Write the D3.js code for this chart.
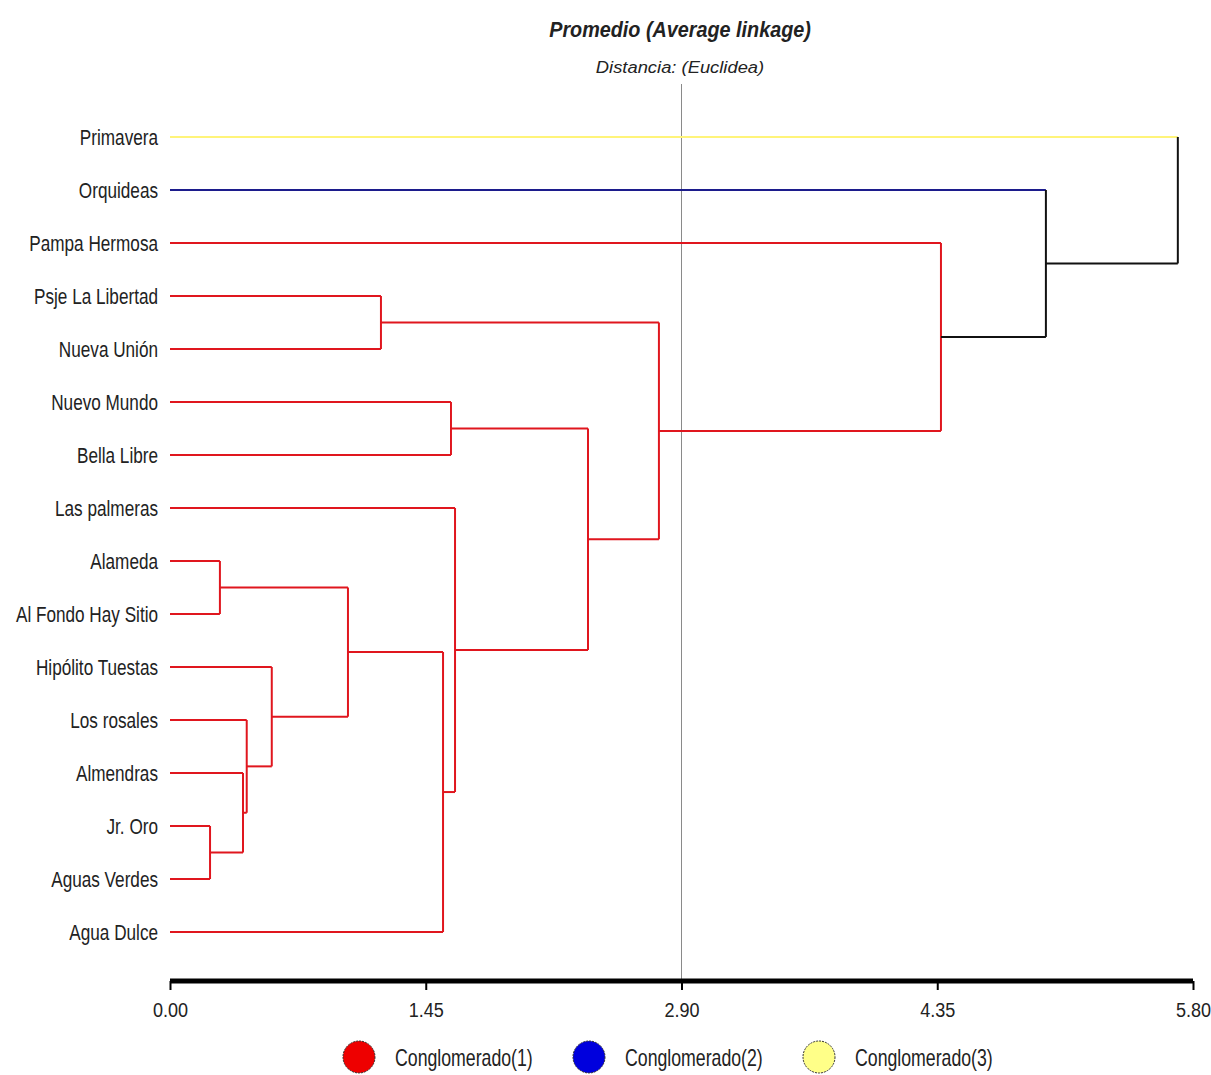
<!DOCTYPE html>
<html>
<head>
<meta charset="utf-8">
<script src="https://cdn.jsdelivr.net/npm/d3@7/dist/d3.min.js"></script>
<style>
  html, body { margin: 0; padding: 0; background: #ffffff; }
  svg { display: block; }
  text { font-family: "Liberation Sans", Arial, sans-serif; fill: #222; }
</style>
</head>
<body>
<svg id="chart" width="1211" height="1075"></svg>
<script>
// ---------------- DATA ----------------
const leafNames = ["Primavera", "Orquideas", "Pampa Hermosa", "Psje La Libertad", "Nueva Unión",
  "Nuevo Mundo", "Bella Libre", "Las palmeras", "Alameda", "Al Fondo Hay Sitio",
  "Hipólito Tuestas", "Los rosales", "Almendras", "Jr. Oro", "Aguas Verdes", "Agua Dulce"];
const leafCluster = [3, 2, 1, 1, 1, 1, 1, 1, 1, 1, 1, 1, 1, 1, 1, 1];
// merges: node ids 0..15 are leaves, each merge creates node 16, 17, ...
const mergeLeft   = [13, 8, 12, 11, 10, 17, 3, 21, 5, 7, 24, 22, 2, 1, 0];
const mergeRight  = [14, 9, 16, 18, 19, 20, 4, 15, 6, 23, 25, 26, 27, 28, 29];
const mergeHeight = [0.227, 0.283, 0.414, 0.435, 0.577, 1.009, 1.196, 1.548, 1.593, 1.616, 2.370, 2.772, 4.371, 4.966, 5.714];
const clusterNames = ["Conglomerado(1)", "Conglomerado(2)", "Conglomerado(3)"];
const clusterColors = ["#e0161e", "#1c1c8c", "#fff47a"];
const legendFill = ["#ee0000", "#0000dd", "#ffff88"];
const tickValues = [0.00, 1.45, 2.90, 4.35, 5.80];
const cutHeight = 2.90;
const title = "Promedio (Average linkage)";
const subtitle = "Distancia: (Euclidea)";

// ---------------- LAYOUT ----------------
const svg = d3.select("#chart");
const x = d3.scaleLinear().domain([0, 5.80]).range([170, 1193]);
const y = d3.scalePoint().domain(d3.range(leafNames.length)).range([137, 932]);

// build nodes
const nodes = leafNames.map((n, i) => ({ id: i, h: 0, y: y(i), cluster: leafCluster[i], leaf: true }));
mergeLeft.forEach((l, k) => {
  const a = nodes[l], b = nodes[mergeRight[k]];
  nodes.push({
    id: nodes.length, h: mergeHeight[k], y: (a.y + b.y) / 2,
    cluster: a.cluster === b.cluster ? a.cluster : null,
    leaf: false, children: [a, b]
  });
});
const colorOf = c => c == null ? "#111" : clusterColors[c - 1];

// reference line at cut height
svg.append("line")
  .attr("x1", x(cutHeight)).attr("x2", x(cutHeight))
  .attr("y1", 84).attr("y2", 981)
  .attr("stroke", "#8a8a8a").attr("stroke-width", 1);

const g = svg.append("g").attr("fill", "none").attr("stroke-width", 2);
nodes.filter(n => !n.leaf).forEach(n => {
  n.children.forEach(c => {
    const col = (c.leaf || c.cluster === n.cluster) ? colorOf(c.cluster) : "#111";
    g.append("line")
      .attr("x1", x(c.h)).attr("x2", x(n.h))
      .attr("y1", c.y).attr("y2", c.y)
      .attr("stroke", col);
  });
  g.append("line")
    .attr("x1", x(n.h)).attr("x2", x(n.h))
    .attr("y1", n.children[0].y).attr("y2", n.children[1].y)
    .attr("stroke", colorOf(n.cluster));
});

// leaf labels
svg.append("g").selectAll("text").data(leafNames).join("text")
  .attr("transform", (d, i) => `translate(158,${y(i) + 8}) scale(0.78,1)`)
  .attr("text-anchor", "end")
  .style("font-size", "22px")
  .text(d => d);

// title
svg.append("text")
  .attr("transform", "translate(680,37) scale(0.9,1)")
  .attr("text-anchor", "middle")
  .style("font-size", "22px").style("font-weight", "bold").style("font-style", "italic")
  .text(title);
svg.append("text")
  .attr("transform", "translate(680,73) scale(1.08,1)")
  .attr("text-anchor", "middle")
  .style("font-size", "17px").style("font-style", "italic")
  .attr("fill", "#333")
  .text(subtitle);

// axis
const axis = d3.axisBottom(x).tickValues(tickValues).tickFormat(d3.format(".2f")).tickSize(9).tickPadding(12);
const ax = svg.append("g").attr("transform", "translate(0,981)").call(axis);
ax.attr("font-family", null).attr("font-size", null);
ax.select(".domain").attr("stroke", "#000").attr("stroke-width", 5).attr("d", `M${x(0)},0H${x(5.80)}`);
ax.selectAll(".tick line").attr("stroke", "#000").attr("stroke-width", 2);
ax.selectAll(".tick text").style("font-size", "21px").attr("fill", "#222")
  .attr("transform", "scale(0.86,1)");

// legend
const legX = [359, 589, 819];
const leg = svg.append("g").selectAll("g").data(clusterNames).join("g")
  .attr("transform", (d, i) => `translate(${legX[i]},1057)`);
leg.append("ellipse").attr("rx", 16).attr("ry", 16)
  .attr("fill", (d, i) => legendFill[i])
  .attr("stroke", "#333").attr("stroke-width", 1).attr("stroke-dasharray", "2,1");
leg.append("text")
  .attr("transform", "translate(36,9) scale(0.77,1)")
  .style("font-size", "23px")
  .text(d => d);
</script>
</body>
</html>
